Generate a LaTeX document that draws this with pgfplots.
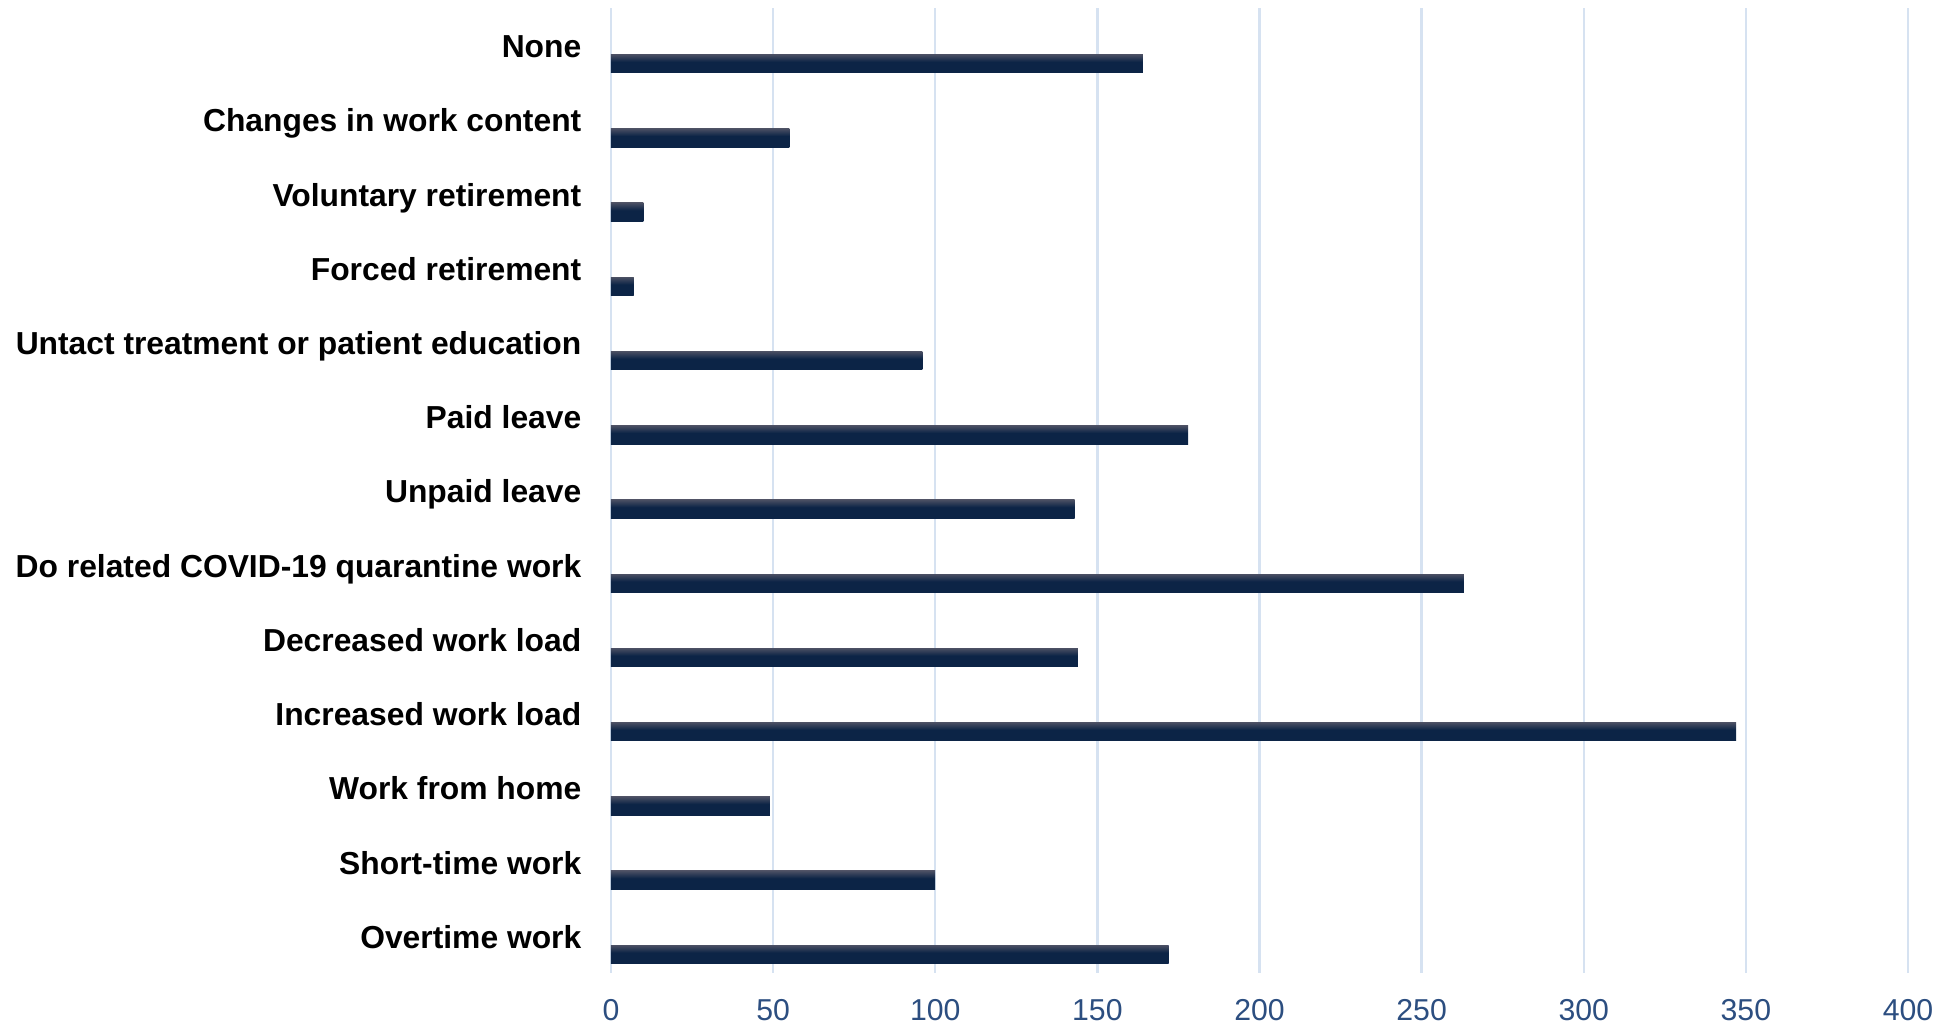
\documentclass[border=0pt]{standalone}
\usepackage{pgfplots}
\pgfplotsset{compat=1.18}
\usepackage{fontspec}
\setmainfont{Liberation Sans}
\definecolor{bardark}{HTML}{0C2446}
\definecolor{barlight}{HTML}{4A4F63}
\definecolor{gridblue}{HTML}{D6E2F1}
\definecolor{ticklab}{HTML}{2C4E80}
\pgfdeclareverticalshading{barshade}{100bp}{color(0bp)=(bardark); color(25bp)=(bardark); color(55bp)=(bardark); color(75bp)=(barlight); color(100bp)=(barlight)}
\begin{document}
\begin{tikzpicture}
\begin{axis}[
  at={(0,0)}, anchor=south west,
  scale only axis,
  width=12.97cm, height=9.65cm,
  xmin=0, xmax=400, ymin=-0.5, ymax=12.5,
  xtick={0,50,...,400},
  ytick={0,...,12},
  yticklabels={Overtime work, Short-time work, Work from home, Increased work load, Decreased work load, Do related COVID-19 quarantine work, Unpaid leave, Paid leave, Untact treatment or patient education, Forced retirement, Voluntary retirement, Changes in work content, None},
  axis line style={draw=none},
  major tick length=0pt,
  tick style={draw=none},
  xmajorgrids,
  grid style={gridblue, line width=0.65pt},
  /pgf/number format/assume math mode=true,
  xticklabel style={font=\fontsize{8.6}{10}\selectfont, text=ticklab, anchor=north, inner sep=0pt, yshift=-0.255cm},
  yticklabel style={font=\fontsize{9.05}{11}\selectfont\bfseries, text=black, anchor=base east, inner sep=0pt, xshift=-0.29cm, yshift=-0.125cm},
  xbar, bar width=0.185cm, bar shift=0pt,
  every axis plot/.append style={draw=none, shade, shading=barshade},
  clip=false,
]
\addplot coordinates {(172,-0.25)};
\addplot coordinates {(100,0.75)};
\addplot coordinates {(49,1.75)};
\addplot coordinates {(347,2.75)};
\addplot coordinates {(144,3.75)};
\addplot coordinates {(263,4.75)};
\addplot coordinates {(143,5.75)};
\addplot coordinates {(178,6.75)};
\addplot coordinates {(96,7.75)};
\addplot coordinates {(7,8.75)};
\addplot coordinates {(10,9.75)};
\addplot coordinates {(55,10.75)};
\addplot coordinates {(164,11.75)};
\end{axis}
\pgfresetboundingbox
\path[use as bounding box] (-6.11cm,-0.53cm) rectangle (13.40cm,9.73cm);
\end{tikzpicture}
\end{document}
